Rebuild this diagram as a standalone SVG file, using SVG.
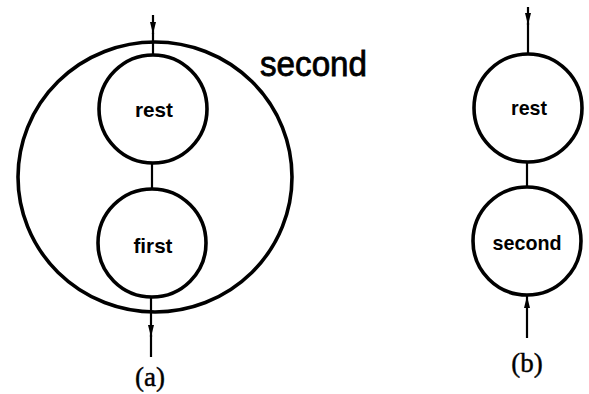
<svg xmlns="http://www.w3.org/2000/svg" width="589" height="394" viewBox="0 0 589 394">
<defs>
<marker id="ah" viewBox="0 0 12 8" refX="12" refY="4" markerWidth="12" markerHeight="8" markerUnits="userSpaceOnUse" orient="auto">
<path d="M0,1 L12,4 L0,7 Z" fill="#000"/>
</marker>
<style>
.c{fill:none;stroke:#000;stroke-width:3.6}
.l{fill:none;stroke:#000;stroke-width:2.2}
.t{font-family:"Liberation Sans","DejaVu Sans",sans-serif;font-weight:bold;font-size:21px;text-anchor:middle;fill:#000}
.big{font-family:"Liberation Sans","DejaVu Sans",sans-serif;font-size:35px;fill:#000;stroke:#000;stroke-width:0.8}
.cap{font-family:"Liberation Serif","DejaVu Serif",serif;font-size:27px;text-anchor:middle;fill:#000;stroke:#000;stroke-width:0.4}
</style>
</defs>
<g id="outer-second">
<ellipse class="c" cx="155" cy="177" rx="137" ry="135"/>
<text class="big" x="260" y="76" textLength="107" lengthAdjust="spacingAndGlyphs">second</text>
</g>
<g id="a-rest">
<circle class="c" cx="153" cy="109" r="54"/>
<text class="t" x="154" y="117" textLength="38" lengthAdjust="spacingAndGlyphs">rest</text>
</g>
<g id="a-first">
<circle class="c" cx="152" cy="243" r="54"/>
<text class="t" x="153" y="253" textLength="39" lengthAdjust="spacingAndGlyphs">first</text>
</g>
<g id="b-rest">
<circle class="c" cx="528" cy="108" r="54"/>
<text class="t" x="529" y="115" textLength="36" lengthAdjust="spacingAndGlyphs">rest</text>
</g>
<g id="b-second">
<circle class="c" cx="527" cy="241" r="54"/>
<text class="t" x="527" y="250" textLength="69" lengthAdjust="spacingAndGlyphs">second</text>
</g>
<g id="connectors">
<line class="l" x1="153" y1="15" x2="153" y2="34" marker-end="url(#ah)"/>
<line class="l" x1="153" y1="33" x2="153" y2="55"/>
<line class="l" x1="152" y1="163" x2="152" y2="189"/>
<line class="l" x1="151" y1="297" x2="151" y2="337" marker-end="url(#ah)"/>
<line class="l" x1="151" y1="335" x2="151" y2="357"/>
<line class="l" x1="528" y1="7" x2="528" y2="25" marker-end="url(#ah)"/>
<line class="l" x1="528" y1="23" x2="528" y2="54"/>
<line class="l" x1="527" y1="162" x2="527" y2="187"/>
<line class="l" x1="527" y1="338" x2="527" y2="296" marker-end="url(#ah)"/>
</g>
<text class="cap" x="150" y="386">(a)</text>
<text class="cap" x="527" y="372">(b)</text>
</svg>
